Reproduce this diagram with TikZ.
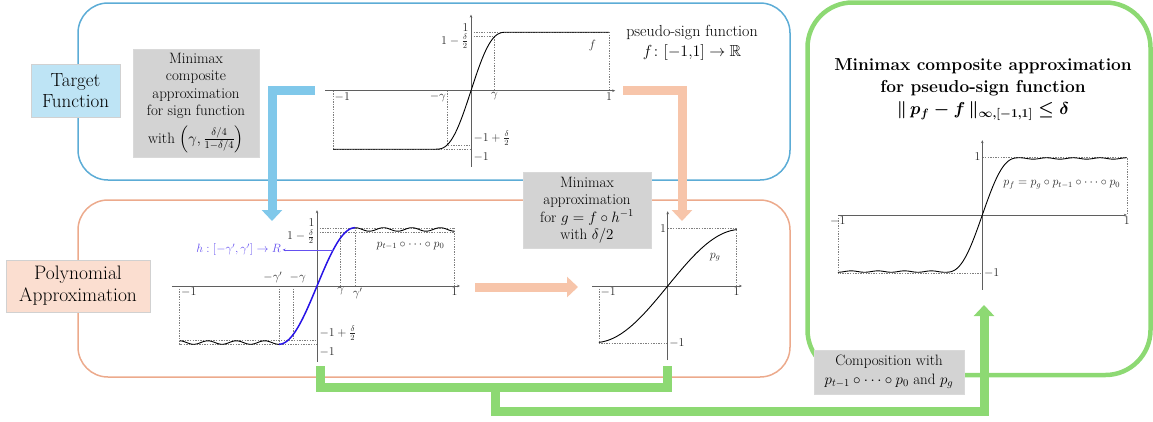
\documentclass[tikz,border=0pt]{standalone}
\usepackage{fix-cm}
\usepackage{amsmath,amssymb,bm}
\usetikzlibrary{arrows.meta}
\definecolor{fblue}{RGB}{92,172,214}
\definecolor{forange}{RGB}{236,170,140}
\definecolor{fgreen}{RGB}{141,217,115}
\definecolor{ablue}{RGB}{128,200,234}
\definecolor{aorange}{RGB}{247,197,170}
\definecolor{tfill}{RGB}{190,228,245}
\definecolor{pfill}{RGB}{251,222,208}
\definecolor{gfill}{RGB}{211,211,211}
\definecolor{cblue}{RGB}{40,20,230}
\definecolor{hcol}{RGB}{100,80,240}
\definecolor{labcol}{RGB}{40,40,40}
\definecolor{axcol}{RGB}{95,95,95}
\begin{document}
\begin{tikzpicture}[x=1pt,y=-1pt,
  declare function={P(\t)=1.875*\t-1.25*\t*\t*\t+0.375*\t*\t*\t*\t*\t;},
  frame/.style={rounded corners=30pt, line width=1.5pt},
  bigarrow/.style={line width=9pt, -{Triangle[length=11pt,width=20pt]}},
  axis/.style={draw=axcol, line width=0.5pt, -{Stealth[length=3pt,width=2.6pt]}},
  guide/.style={draw=gray, line width=0.4pt, dash pattern=on 1.4pt off 1.2pt},
  curve/.style={line width=0.9pt, black},
  lab/.style={font=\fontsize{12}{13.5}\selectfont, text=labcol, inner sep=1.5pt},
  tagbox/.style={draw=black!18, line width=0.5pt, inner sep=0pt, align=center},
  graybox/.style={fill=gfill, draw=black!15, line width=0.5pt, inner sep=0pt, align=center,
     font=\fontsize{15}{17.5}\selectfont},
]
\useasboundingbox (0,0) rectangle (1153,421);

% frames
\draw[frame, fblue] (78,3) rectangle (790,180);
\draw[frame, forange] (78,200) rectangle (790,377);
\draw[fgreen, line width=4.5pt, rounded corners=45pt] (807.5,2.5) rectangle (1150.5,375);

% ---------------- top plot
\begin{scope}[shift={(471,90.7)}, x=138pt, y=58.5pt]
  \draw[guide] (0,1) -- (1,1) -- (1,0);
  \draw[guide] (0,0.925) -- (0.17,0.925) -- (0.17,0);
  \draw[guide] (-1,0) -- (-1,-1) -- (0,-1);
  \draw[guide] (-0.17,0) -- (-0.17,-0.925) -- (0,-0.925);
  \draw[axis] (-1.058,0) -- (1.045,0);
  \draw[axis] (0,-1.30) -- (0,1.30);
  \draw[curve] (-1,-1) -- plot[domain=-0.26:0.26, samples=60] (\x,{P(\x/0.26)}) -- (1,1);
  \node[lab, anchor=south east, inner sep=1pt] (t1) at (-0.01,1.0) {$1$};
  \node[lab, anchor=north east, inner sep=1pt] (t1d) at (-0.01,0.99) {$1-\frac{\delta}{2}$};
  \node[lab, anchor=north west] (tm1x) at (-1,0) {$-1$};
  \node[lab, anchor=north east] (tmg) at (-0.17,0) {$-\gamma$};
  \node[lab, anchor=north] (tg) at (0.17,0) {$\gamma$};
  \node[lab, anchor=north] (t1x) at (1,0) {$1$};
  \node[lab, anchor=south west, inner sep=1pt] (tm1d) at (0.01,-0.96) {$-1+\frac{\delta}{2}$};
  \node[lab, anchor=north west, inner sep=1pt] (tm1) at (0.01,-1.04) {$-1$};
  \node[lab] (tf) at (0.88,0.78) {$f$};
\end{scope}
\node[font=\fontsize{16}{20}\selectfont, align=center] (pseudo) at (692,43)
  {pseudo-sign function\\$f\colon[-1{,}1]\to\mathbb{R}$};

% ---------------- middle-left plot
\begin{scope}[shift={(317,286)}, x=137.5pt, y=58.3pt]
  \draw[guide] (0,1) -- (1,1) -- (1,0);
  \draw[guide] (0,0.926) -- (1,0.926);
  \draw[guide] (0.172,0) -- (0.172,0.926);
  \draw[guide] (0.277,0) -- (0.277,1);
  \draw[guide] (-1,0) -- (-1,-1) -- (0,-1);
  \draw[guide] (-1,-0.926) -- (0,-0.926);
  \draw[guide] (-0.277,0) -- (-0.277,-1);
  \draw[guide] (-0.172,0) -- (-0.172,-0.926);
  \draw[axis] (-1.055,0) -- (1.04,0);
  \draw[axis] (0,-1.30) -- (0,1.30);
  \draw[curve] plot[domain=-1:-0.277, samples=90] (\x,{-1+0.03*(1-cos(1260*(\x+0.277)/0.723))});
  \draw[curve] plot[domain=0.277:1, samples=90] (\x,{1-0.03*(1-cos(1260*(\x-0.277)/0.723))});
  \draw[line width=1.5pt, cblue] plot[domain=-0.277:0.277, samples=60] (\x,{sin(90*\x/0.277)});
  \node[lab, anchor=south east, inner sep=1pt] (m1) at (-0.01,1.0) {$1$};
  \node[lab, anchor=north east, inner sep=1pt] (m1d) at (-0.01,0.99) {$1-\frac{\delta}{2}$};
  \node[lab, anchor=south east] (mmgp) at (-0.24,0.02) {$-\gamma'$};
  \node[lab, anchor=south] (mmg) at (-0.14,0.02) {$-\gamma$};
  \node[lab, anchor=north] (mg) at (0.172,0) {$\gamma$};
  \node[lab, anchor=north] (mgp) at (0.295,0) {$\gamma'$};
  \node[lab, anchor=north west] (mm1x) at (-1,0) {$-1$};
  \node[lab, anchor=north] (m1x) at (1,0) {$1$};
  \node[lab, anchor=south west, inner sep=1pt] (mm1d) at (0.01,-0.96) {$-1+\frac{\delta}{2}$};
  \node[lab, anchor=north west, inner sep=1pt] (mm1) at (0.01,-1.04) {$-1$};
  \node[lab] (mcomp) at (0.68,0.69) {$p_{t-1}\circ\cdots\circ p_0$};
  \node[lab, text=hcol, anchor=east] (hlab) at (-0.25,0.62) {$h:[-\gamma',\gamma']\to R$};
  \coordinate (hstart) at (0.118,0.62);
  \draw[hcol, line width=0.5pt, -{Stealth[length=3pt,width=2.6pt]}] (hstart) -- (hlab.east);
\end{scope}

% ---------------- middle-right plot
\begin{scope}[shift={(667.7,286)}, x=68.8pt, y=57.5pt]
  \draw[guide] (0,1) -- (1,1) -- (1,0);
  \draw[guide] (-1,0) -- (-1,-1) -- (0,-1);
  \draw[axis] (-1.10,0) -- (1.08,0);
  \draw[axis] (0,-1.29) -- (0,1.30);
  \draw[curve] plot[domain=-1:1, samples=80] (\x,{0.98*sin(85*\x)/sin(85)});
  \node[lab, anchor=east] (g1) at (0,1) {$1$};
  \node[lab, anchor=west] (gm1) at (0,-1) {$-1$};
  \node[lab, anchor=north west] (gm1x) at (-1,0) {$-1$};
  \node[lab, anchor=north] (g1x) at (1,0) {$1$};
  \node[lab] (gpg) at (0.69,0.5) {$p_g$};
\end{scope}

% ---------------- right plot
\begin{scope}[shift={(982.3,215)}, x=144.5pt, y=58pt]
  \draw[guide] (0,1) -- (1,1) -- (1,0);
  \draw[guide] (-1,0) -- (-1,-1) -- (0,-1);
  \draw[axis] (-1,0) -- (1,0);
  \draw[axis] (0,-1.29) -- (0,1.29);
  \draw[curve] plot[domain=-1:-0.26, samples=90] (\x,{-0.975-0.012*cos(1440*(\x+0.26)/0.74)});
  \draw[curve] plot[domain=-0.26:0.26, samples=60] (\x,{0.987*P(\x/0.26)});
  \draw[curve] plot[domain=0.26:1, samples=90] (\x,{0.975+0.012*cos(1440*(\x-0.26)/0.74)});
  \node[lab, anchor=east] (r1) at (0,1) {$1$};
  \node[lab, anchor=west] (rm1) at (0,-1) {$-1$};
  \node[lab, anchor=north] (rm1x) at (-1,0) {$-1$};
  \node[lab, anchor=north] (r1x) at (1,0) {$1$};
  \node[lab] (rpf) at (0.55,0.52) {$p_f=p_g\circ p_{t-1}\circ\cdots\circ p_0$};
\end{scope}
\node[font=\fontsize{17.3}{22}\selectfont\bfseries, align=center] (title) at (983,90)
  {Minimax composite approximation\\for pseudo-sign function\\{\boldmath$\|\,p_f-f\,\|_{\infty,[-1,1]}\leq\delta$}};

% ---------------- arrows
\coordinate (bs) at (315,90.5);
\coordinate (bc) at (272,90.5);
\coordinate (be) at (272,221);
\draw[bigarrow, ablue] (bs) -- (bc) -- (be);
\coordinate (os) at (623,90.5);
\coordinate (oc) at (682,90.5);
\coordinate (oe) at (682,221);
\draw[bigarrow, aorange] (os) -- (oc) -- (oe);
\coordinate (hs) at (475,287);
\coordinate (he) at (578,287);
\draw[bigarrow, aorange] (hs) -- (he);
\coordinate (ga) at (320.5,366);
\coordinate (gb) at (320.5,387.5);
\coordinate (gc) at (667.5,387.5);
\coordinate (gd) at (667.5,366);
\draw[fgreen, line width=9pt] (ga) -- (gb) -- (gc) -- (gd);
\coordinate (gm) at (495,387.5);
\coordinate (gn) at (495,411.5);
\coordinate (go) at (984,411.5);
\coordinate (gp) at (984,305);
\draw[bigarrow, fgreen] (gm) -- (gn) -- (go) -- (gp);

% ---------------- boxes
\node[tagbox, fill=tfill, minimum width=89pt, minimum height=53pt,
      font=\fontsize{19}{21.5}\selectfont] (target) at (75.5,90.5) {Target\\Function};
\node[tagbox, fill=pfill, minimum width=144pt, minimum height=52pt,
      font=\fontsize{19.5}{22}\selectfont] (poly) at (78,286) {Polynomial\\Approximation};
\node[graybox, minimum width=126pt, minimum height=108pt] (g1box) at (196,103)
  {Minimax\\composite\\approximation\\for sign function\\[6pt]with $\left(\gamma,\frac{\delta/4}{1-\delta/4}\right)$};
\node[graybox, minimum width=128pt, minimum height=76pt] (g2box) at (587,210)
  {Minimax\\approximation\\for $g=f\circ h^{-1}$\\with $\delta/2$};
\node[graybox, minimum width=150pt, minimum height=44pt, font=\fontsize{15}{19}\selectfont] (compbox) at (889,372)
  {Composition with\\$p_{t-1}\circ\cdots\circ p_0$ and $p_g$};
\end{tikzpicture}
\end{document}
